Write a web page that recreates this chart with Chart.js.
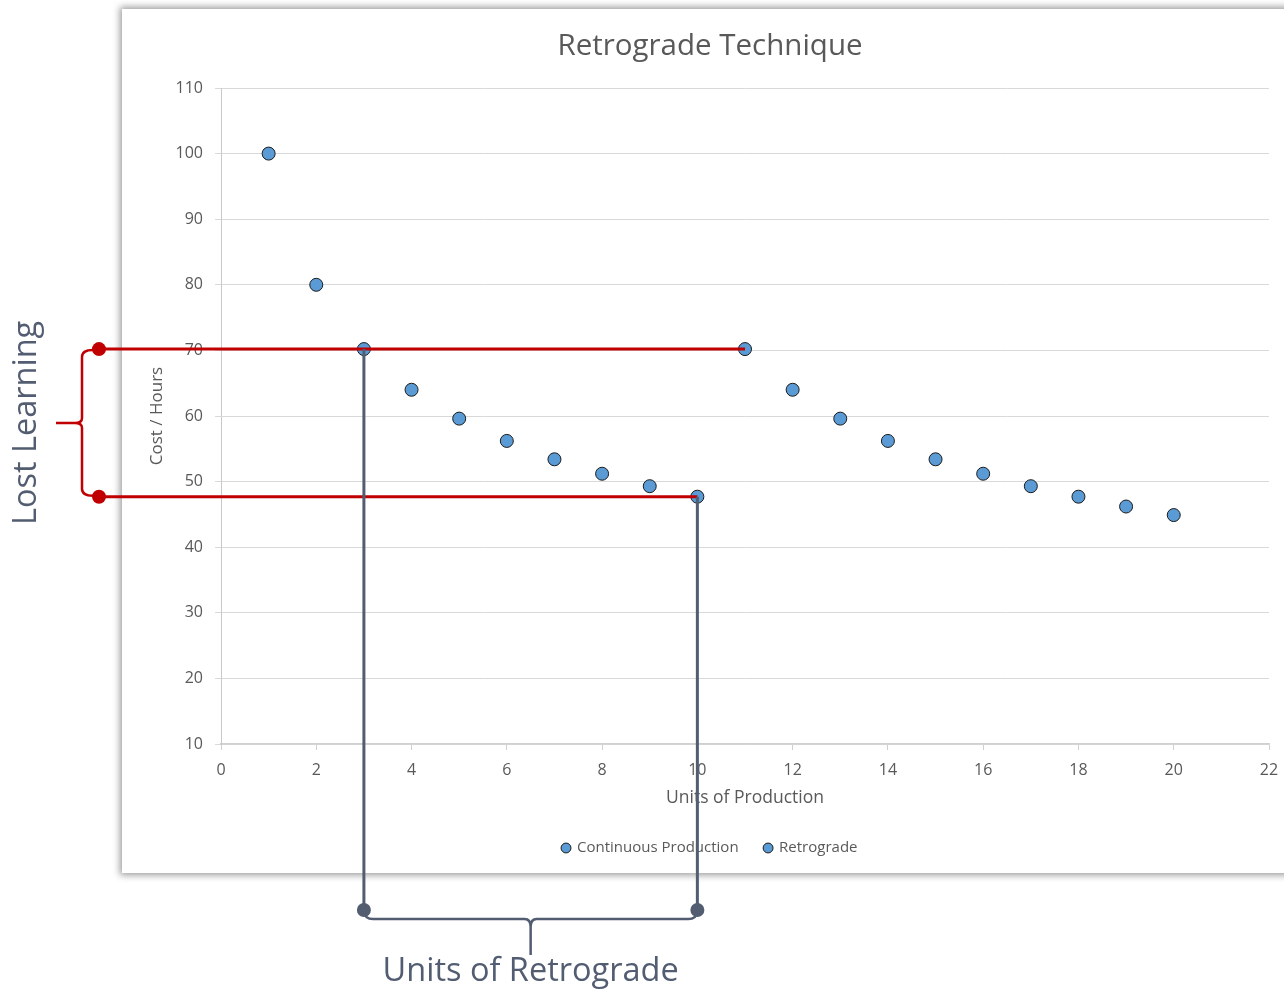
<!DOCTYPE html>
<html>
<head>
<meta charset="utf-8">
<script src="https://cdn.jsdelivr.net/npm/chart.js@4"></script>
<style>
  html, body { margin: 0; padding: 0; background: #fff; overflow: hidden; }
  #box {
    position: absolute; left: 122px; top: 9px; width: 1200px; height: 864px;
    background: #fff; box-shadow: 0 0 7px 2px rgba(0, 0, 0, 0.4);
  }
  #chart { position: absolute; left: 0; top: 0; }
</style>
</head>
<body>
<div id="box"></div>
<canvas id="chart" width="1284" height="989"></canvas>
<script>
// units 1..10 produced continuously, then a break, then units 11..20
const continuousX = [1, 2, 3, 4, 5, 6, 7, 8, 9, 10];
const continuousY = [100, 80, 70.2, 64.0, 59.6, 56.2, 53.4, 51.2, 49.3, 47.7];
const retrogradeX = [11, 12, 13, 14, 15, 16, 17, 18, 19, 20];
const retrogradeY = [70.2, 64.0, 59.6, 56.2, 53.4, 51.2, 49.3, 47.7, 46.2, 44.9];
const seriesNames = ['Continuous Production', 'Retrograde'];

// annotation anchors (data values)
const retroFromUnit = 3;
const retroToUnit = 10;
const lostTop = 70.2;
const lostBottom = 47.7;
const restartUnit = 11;

const textColor = '#595959';
const fontFamily = '"Open Sans", sans-serif';

function toPoints(xs, ys) {
  return xs.map((x, i) => ({ x, y: ys[i] }));
}

const annotate = {
  id: 'annotate',
  afterDraw(chart) {
    const ctx = chart.ctx;
    const xs = chart.scales.x;
    const ys = chart.scales.y;
    const px = v => xs.getPixelForValue(v);
    const py = v => ys.getPixelForValue(v);
    const red = '#c00000';
    const slate = '#535d72';
    const leftX = 99;

    ctx.save();
    ctx.lineWidth = 3;
    ctx.lineCap = 'butt';

    // lost learning, red
    const yT = py(lostTop);
    const yB = py(lostBottom);
    ctx.strokeStyle = red;
    ctx.fillStyle = red;
    ctx.beginPath();
    ctx.moveTo(leftX, yT); ctx.lineTo(px(restartUnit), yT);
    ctx.moveTo(leftX, yB); ctx.lineTo(px(retroToUnit), yB);
    ctx.stroke();
    [yT, yB].forEach(y => { ctx.beginPath(); ctx.arc(leftX, y, 7, 0, Math.PI * 2); ctx.fill(); });
    const bx = 82;
    const mid = (yT + yB) / 2;
    ctx.lineWidth = 2.5;
    ctx.beginPath();
    ctx.moveTo(leftX - 6, yT + 1);
    ctx.quadraticCurveTo(bx, yT + 1, bx, yT + 8);
    ctx.lineTo(bx, mid - 5);
    ctx.quadraticCurveTo(bx, mid, bx - 7, mid);
    ctx.quadraticCurveTo(bx, mid, bx, mid + 5);
    ctx.lineTo(bx, yB - 8);
    ctx.quadraticCurveTo(bx, yB - 1, leftX - 6, yB - 1);
    ctx.moveTo(bx - 7, mid);
    ctx.lineTo(56, mid);
    ctx.stroke();

    // units of retrograde, slate
    const x1 = px(retroFromUnit);
    const x2 = px(retroToUnit);
    const dotY = 910;
    const braceY = 919;
    ctx.strokeStyle = slate;
    ctx.fillStyle = slate;
    ctx.lineWidth = 3;
    ctx.beginPath();
    ctx.moveTo(x1, yT); ctx.lineTo(x1, dotY);
    ctx.moveTo(x2, yB); ctx.lineTo(x2, dotY);
    ctx.stroke();
    [x1, x2].forEach(x => { ctx.beginPath(); ctx.arc(x, dotY, 7, 0, Math.PI * 2); ctx.fill(); });
    const cx = (x1 + x2) / 2;
    ctx.lineWidth = 2.5;
    ctx.beginPath();
    ctx.moveTo(x1 + 1, dotY + 3);
    ctx.quadraticCurveTo(x1 + 1, braceY, x1 + 9, braceY);
    ctx.lineTo(cx - 6, braceY);
    ctx.quadraticCurveTo(cx, braceY, cx, braceY + 8);
    ctx.quadraticCurveTo(cx, braceY, cx + 6, braceY);
    ctx.lineTo(x2 - 9, braceY);
    ctx.quadraticCurveTo(x2 - 1, braceY, x2 - 1, dotY + 3);
    ctx.moveTo(cx, braceY + 8);
    ctx.lineTo(cx, 955);
    ctx.stroke();

    ctx.font = '32.5px ' + fontFamily;
    ctx.textAlign = 'center';
    ctx.textBaseline = 'middle';
    ctx.fillText('Units of Retrograde', cx, 972);

    ctx.translate(27, mid);
    ctx.rotate(-Math.PI / 2);
    ctx.fillText('Lost Learning', 0, 0);
    ctx.restore();
  }
};

const pointStyle = {
  pointRadius: 6.5,
  pointHoverRadius: 6.5,
  pointBackgroundColor: '#5b9bd5',
  pointBorderColor: '#1a1a1a',
  pointBorderWidth: 1,
  backgroundColor: '#5b9bd5',
  borderColor: '#1a1a1a',
  borderWidth: 1,
  showLine: false,
};

new Chart(document.getElementById('chart'), {
  type: 'scatter',
  data: {
    datasets: [
      Object.assign({ label: seriesNames[0], data: toPoints(continuousX, continuousY) }, pointStyle),
      Object.assign({ label: seriesNames[1], data: toPoints(retrogradeX, retrogradeY) }, pointStyle),
    ],
  },
  options: {
    responsive: false,
    animation: false,
    devicePixelRatio: 1,
    layout: { padding: { left: 151, right: 15, top: 0, bottom: 123.5 } },
    scales: {
      x: {
        type: 'linear',
        min: 0,
        max: 22,
        ticks: { stepSize: 2, color: textColor, font: { family: fontFamily, size: 16 }, padding: 11, maxRotation: 0 },
        grid: { drawOnChartArea: false, drawTicks: true, tickLength: 6, color: '#d0d0d0' },
        border: { color: '#d0d0d0', width: 1.5 },
        title: { display: true, text: 'Units of Production', color: textColor, font: { family: fontFamily, size: 17.5 }, padding: { top: 0, bottom: 6 } },
        afterFit(scale) {
          scale.height = 70.5;
          scale.paddingRight = 0; // let the "22" label sit in the layout padding
        },
      },
      y: {
        type: 'linear',
        min: 10,
        max: 110,
        ticks: { stepSize: 10, color: textColor, font: { family: fontFamily, size: 16 }, padding: 12 },
        grid: { color: '#d9d9d9', tickLength: 6, lineWidth: 1 },
        border: { color: '#c8c8c8', width: 1 },
        title: { display: true, text: 'Cost / Hours', color: textColor, font: { family: fontFamily, size: 17 }, padding: { top: -4, bottom: 0 } },
        afterFit(scale) { scale.width = 70; },
      },
    },
    plugins: {
      title: {
        display: true,
        text: 'Retrograde Technique',
        color: textColor,
        font: { family: fontFamily, size: 29.5, weight: 'normal' },
        padding: { top: 29.3, bottom: 23.3 },
      },
      legend: {
        display: true,
        position: 'bottom',
        labels: {
          usePointStyle: true,
          pointStyle: 'circle',
          boxWidth: 7,
          boxHeight: 7,
          padding: 26,
          color: textColor,
          font: { family: fontFamily, size: 15 },
        },
      },
      tooltip: { enabled: false },
    },
  },
  plugins: [annotate],
});
</script>
</body>
</html>
